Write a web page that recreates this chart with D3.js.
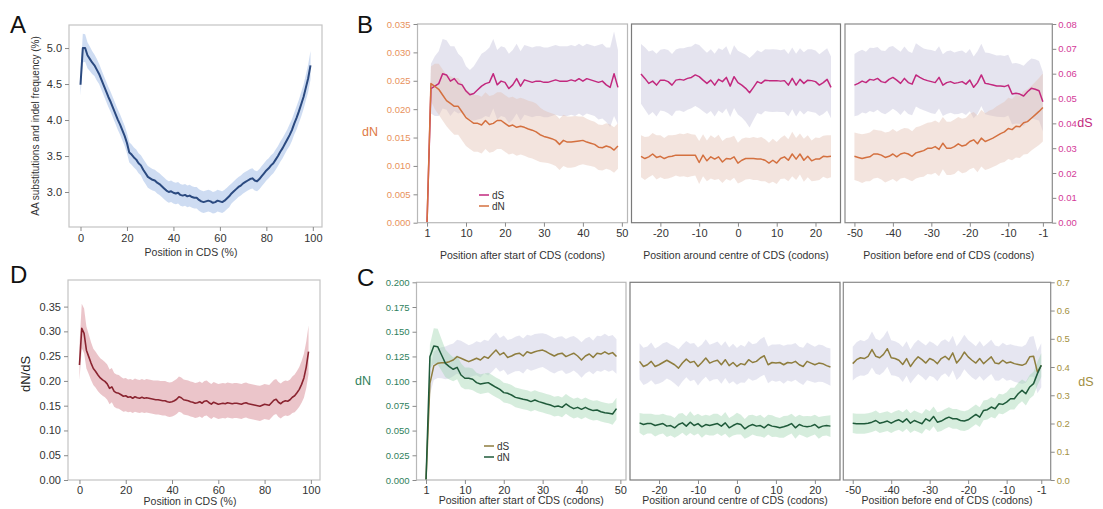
<!DOCTYPE html>
<html><head><meta charset="utf-8">
<script src="https://cdn.jsdelivr.net/npm/d3@7"></script>
<style>body{margin:0;background:#fff}svg{display:block}</style>
</head><body><svg id="c" width="1103" height="509"></svg>
<script>
// ---------- Panel A : AA substitutions and indel frequency (%) ----------
const A_mean = [4.49,5.00,5.00,4.90,4.85,4.80,4.76,4.70,4.64,4.56,4.48,4.40,4.32,4.25,4.17,4.09,4.01,3.94,3.86,3.78,3.68,3.55,3.52,3.48,3.45,3.40,3.37,3.31,3.26,3.21,3.19,3.17,3.16,3.13,3.11,3.08,3.05,3.02,3.00,3.01,2.99,2.98,2.99,2.96,2.95,2.96,2.94,2.95,2.93,2.92,2.92,2.89,2.87,2.86,2.87,2.88,2.87,2.85,2.86,2.88,2.87,2.86,2.88,2.91,2.94,2.98,3.01,3.04,3.07,3.09,3.12,3.14,3.16,3.18,3.19,3.16,3.15,3.18,3.22,3.26,3.30,3.33,3.37,3.40,3.45,3.50,3.56,3.61,3.67,3.73,3.79,3.86,3.95,4.03,4.12,4.22,4.32,4.45,4.58,4.76];
const A_err = [0.15,0.20,0.19,0.18,0.17,0.16,0.15,0.15,0.14,0.14,0.14,0.14,0.14,0.14,0.14,0.14,0.14,0.14,0.14,0.14,0.14,0.14,0.14,0.14,0.14,0.14,0.14,0.15,0.15,0.15,0.15,0.15,0.15,0.15,0.15,0.15,0.15,0.15,0.15,0.15,0.15,0.15,0.15,0.15,0.15,0.15,0.15,0.15,0.15,0.15,0.15,0.15,0.15,0.15,0.15,0.15,0.15,0.15,0.15,0.15,0.15,0.15,0.15,0.15,0.15,0.14,0.14,0.14,0.14,0.14,0.14,0.14,0.14,0.14,0.14,0.14,0.14,0.14,0.14,0.14,0.14,0.14,0.14,0.14,0.14,0.14,0.14,0.14,0.14,0.14,0.15,0.15,0.15,0.16,0.16,0.17,0.17,0.18,0.19,0.20];
const A_xticks = [0,20,40,60,80,100];
const A_yticks = [3.0,3.5,4.0,4.5,5.0];

// ---------- Panel D : dN/dS ----------
const D_mean = [0.232,0.306,0.296,0.262,0.249,0.236,0.225,0.219,0.212,0.206,0.202,0.199,0.194,0.185,0.188,0.179,0.176,0.175,0.172,0.169,0.170,0.167,0.168,0.165,0.168,0.166,0.165,0.167,0.165,0.166,0.165,0.164,0.163,0.162,0.162,0.161,0.160,0.160,0.158,0.157,0.158,0.160,0.163,0.168,0.166,0.162,0.161,0.160,0.158,0.157,0.155,0.156,0.158,0.155,0.159,0.160,0.156,0.153,0.157,0.155,0.153,0.154,0.155,0.154,0.156,0.155,0.154,0.155,0.155,0.154,0.153,0.155,0.156,0.154,0.153,0.152,0.151,0.150,0.149,0.151,0.153,0.152,0.151,0.156,0.161,0.163,0.157,0.154,0.158,0.160,0.159,0.162,0.167,0.170,0.176,0.183,0.193,0.206,0.228,0.259];
const D_up = [0.040,0.050,0.050,0.048,0.045,0.042,0.040,0.040,0.040,0.040,0.040,0.039,0.039,0.038,0.038,0.037,0.037,0.037,0.036,0.036,0.036,0.036,0.036,0.037,0.037,0.037,0.037,0.037,0.037,0.038,0.038,0.038,0.038,0.039,0.039,0.039,0.040,0.040,0.040,0.040,0.040,0.041,0.041,0.041,0.041,0.041,0.041,0.041,0.041,0.041,0.041,0.041,0.041,0.041,0.041,0.041,0.041,0.041,0.041,0.041,0.041,0.041,0.041,0.041,0.041,0.041,0.041,0.041,0.041,0.041,0.041,0.041,0.041,0.041,0.041,0.041,0.041,0.041,0.041,0.041,0.041,0.041,0.041,0.041,0.041,0.041,0.041,0.041,0.041,0.041,0.041,0.041,0.042,0.043,0.044,0.045,0.047,0.049,0.051,0.053];
const D_dn = [0.030,0.040,0.040,0.037,0.035,0.034,0.033,0.033,0.033,0.032,0.032,0.032,0.032,0.032,0.031,0.031,0.031,0.031,0.031,0.031,0.031,0.030,0.030,0.030,0.030,0.030,0.030,0.030,0.030,0.030,0.030,0.030,0.030,0.030,0.030,0.030,0.030,0.030,0.030,0.030,0.030,0.030,0.030,0.030,0.030,0.030,0.030,0.030,0.030,0.030,0.030,0.030,0.030,0.030,0.030,0.030,0.030,0.030,0.030,0.030,0.030,0.030,0.030,0.030,0.030,0.030,0.030,0.030,0.030,0.030,0.030,0.030,0.030,0.030,0.030,0.030,0.030,0.030,0.030,0.030,0.030,0.030,0.030,0.030,0.030,0.030,0.030,0.030,0.030,0.030,0.030,0.031,0.032,0.033,0.034,0.035,0.037,0.040,0.043,0.045];
const D_xticks = [0,20,40,60,80,100];
const D_yticks = [0,0.05,0.10,0.15,0.20,0.25,0.30,0.35];

// ---------- Panel B : dN / dS (orange / magenta) ----------
const B1_dS = [0,0.054,0.055,0.056,0.060,0.0595,0.057,0.058,0.056,0.0555,0.053,0.0515,0.052,0.0535,0.055,0.056,0.0565,0.060,0.0555,0.057,0.0565,0.054,0.0555,0.058,0.055,0.0575,0.057,0.0565,0.057,0.057,0.0565,0.0565,0.057,0.0575,0.057,0.057,0.057,0.0575,0.057,0.058,0.057,0.058,0.0575,0.057,0.0565,0.057,0.0555,0.0545,0.060,0.0545];
const B1_dS_err = [0,0.010,0.012,0.013,0.014,0.014,0.014,0.013,0.012,0.011,0.010,0.010,0.011,0.012,0.013,0.013,0.014,0.014,0.014,0.014,0.014,0.014,0.014,0.014,0.014,0.014,0.014,0.014,0.014,0.014,0.014,0.014,0.014,0.014,0.014,0.014,0.014,0.014,0.014,0.014,0.014,0.014,0.014,0.014,0.015,0.015,0.015,0.016,0.017,0.015];
const B1_dN = [0,0.0245,0.024,0.0235,0.0225,0.0215,0.021,0.0205,0.0205,0.0195,0.0185,0.018,0.0175,0.0175,0.0172,0.018,0.0173,0.0175,0.018,0.018,0.0175,0.017,0.0172,0.0168,0.017,0.0168,0.0165,0.0163,0.016,0.0155,0.0152,0.015,0.0148,0.0145,0.0138,0.0145,0.0142,0.0142,0.0143,0.0144,0.0145,0.0142,0.014,0.0138,0.0133,0.0132,0.0135,0.0133,0.0128,0.0135];
const B1_dN_err = [0,0.0030,0.0040,0.0045,0.0045,0.0045,0.0048,0.0050,0.0050,0.0050,0.0050,0.0050,0.0050,0.0050,0.0050,0.0050,0.0050,0.0050,0.0050,0.0050,0.0050,0.0050,0.0050,0.0050,0.0050,0.0050,0.0050,0.0050,0.0050,0.0048,0.0046,0.0045,0.0045,0.0045,0.0045,0.0045,0.0045,0.0045,0.0045,0.0043,0.0042,0.0041,0.0040,0.0040,0.0040,0.0040,0.0040,0.0040,0.0040,0.0040];
const B2_dS = [0.0599,0.0581,0.0561,0.0570,0.0554,0.0574,0.0574,0.0568,0.0554,0.0574,0.0577,0.0574,0.0581,0.0585,0.0595,0.0588,0.0574,0.0561,0.0574,0.0554,0.0577,0.0568,0.0585,0.0550,0.0588,0.0564,0.0554,0.0541,0.0523,0.0545,0.0568,0.0561,0.0574,0.0572,0.0572,0.0572,0.0570,0.0572,0.0554,0.0581,0.0554,0.0577,0.0561,0.0574,0.0572,0.0568,0.0554,0.0564,0.0577,0.0545];
const B2_dS_err = [0.0120,0.0125,0.0128,0.0124,0.0126,0.0122,0.0125,0.0127,0.0125,0.0123,0.0125,0.0128,0.0126,0.0124,0.0125,0.0127,0.0125,0.0123,0.0124,0.0126,0.0125,0.0127,0.0125,0.0124,0.0126,0.0128,0.0130,0.0135,0.0140,0.0132,0.0126,0.0125,0.0124,0.0125,0.0126,0.0125,0.0124,0.0126,0.0125,0.0124,0.0126,0.0125,0.0125,0.0124,0.0126,0.0125,0.0124,0.0126,0.0125,0.0124];
const B2_dN = [0.0117,0.0113,0.0116,0.0121,0.0115,0.0117,0.0113,0.0116,0.0117,0.0119,0.0119,0.0119,0.0119,0.0119,0.0119,0.0106,0.0119,0.0109,0.0116,0.0112,0.0116,0.0107,0.0113,0.0112,0.0116,0.0105,0.0110,0.0113,0.0113,0.0113,0.0112,0.0112,0.0110,0.0105,0.0110,0.0105,0.0113,0.0116,0.0110,0.0121,0.0112,0.0121,0.0110,0.0117,0.0109,0.0112,0.0112,0.0117,0.0116,0.0117];
const B2_dN_err = [0.0037,0.0038,0.0036,0.0037,0.0039,0.0037,0.0036,0.0038,0.0037,0.0036,0.0038,0.0037,0.0039,0.0037,0.0036,0.0038,0.0037,0.0036,0.0038,0.0037,0.0039,0.0037,0.0036,0.0038,0.0037,0.0036,0.0038,0.0037,0.0036,0.0038,0.0037,0.0039,0.0037,0.0036,0.0038,0.0037,0.0036,0.0038,0.0037,0.0039,0.0037,0.0036,0.0038,0.0037,0.0036,0.0038,0.0037,0.0036,0.0038,0.0037];
const B3_dS = [0.0554,0.0561,0.0570,0.0564,0.0577,0.0574,0.0581,0.0568,0.0564,0.0577,0.0585,0.0574,0.0561,0.0581,0.0564,0.0558,0.0595,0.0585,0.0577,0.0572,0.0568,0.0564,0.0585,0.0554,0.0564,0.0568,0.0561,0.0564,0.0568,0.0558,0.0574,0.0545,0.0564,0.0595,0.0561,0.0558,0.0554,0.0550,0.0550,0.0548,0.0554,0.0518,0.0521,0.0518,0.0510,0.0527,0.0541,0.0537,0.0531,0.0487];
const B3_dS_err = [0.0125,0.0128,0.0126,0.0124,0.0127,0.0129,0.0126,0.0125,0.0127,0.0130,0.0126,0.0125,0.0127,0.0128,0.0126,0.0125,0.0127,0.0126,0.0124,0.0125,0.0127,0.0126,0.0125,0.0124,0.0126,0.0125,0.0124,0.0126,0.0125,0.0124,0.0125,0.0124,0.0126,0.0125,0.0124,0.0125,0.0124,0.0123,0.0124,0.0123,0.0122,0.0123,0.0122,0.0121,0.0122,0.0121,0.0120,0.0121,0.0120,0.0120];
const B3_dN = [0.0117,0.0115,0.0113,0.0115,0.0116,0.0121,0.0121,0.0119,0.0115,0.0117,0.0121,0.0116,0.0121,0.0123,0.0121,0.0117,0.0123,0.0125,0.0127,0.0131,0.0131,0.0134,0.0129,0.0140,0.0131,0.0131,0.0134,0.0139,0.0135,0.0137,0.0143,0.0146,0.0139,0.0149,0.0143,0.0146,0.0149,0.0153,0.0157,0.0160,0.0166,0.0164,0.0170,0.0169,0.0176,0.0178,0.0184,0.0190,0.0196,0.0203];
const B3_dN_err = [0.0042,0.0042,0.0043,0.0042,0.0043,0.0043,0.0042,0.0043,0.0044,0.0043,0.0044,0.0044,0.0043,0.0044,0.0045,0.0044,0.0045,0.0045,0.0046,0.0045,0.0046,0.0046,0.0047,0.0046,0.0047,0.0047,0.0048,0.0047,0.0048,0.0048,0.0049,0.0049,0.0050,0.0050,0.0050,0.0051,0.0051,0.0052,0.0052,0.0053,0.0054,0.0054,0.0055,0.0055,0.0056,0.0057,0.0057,0.0058,0.0059,0.0060];

// ---------- Panel C : dN / dS (green / olive) ----------
const C1_dS = [0,0.342,0.404,0.413,0.415,0.415,0.419,0.425,0.437,0.431,0.425,0.419,0.425,0.431,0.425,0.437,0.431,0.446,0.460,0.443,0.451,0.434,0.439,0.446,0.449,0.439,0.454,0.449,0.454,0.458,0.460,0.454,0.446,0.439,0.446,0.449,0.437,0.443,0.449,0.439,0.425,0.439,0.446,0.434,0.449,0.446,0.454,0.446,0.451,0.437];
const C1_dS_err = [0,0.040,0.050,0.052,0.055,0.058,0.060,0.058,0.060,0.062,0.060,0.058,0.057,0.060,0.062,0.060,0.061,0.063,0.062,0.060,0.061,0.062,0.060,0.061,0.063,0.062,0.060,0.062,0.063,0.061,0.060,0.062,0.063,0.062,0.061,0.060,0.062,0.063,0.061,0.062,0.063,0.062,0.061,0.060,0.062,0.063,0.064,0.063,0.062,0.061];
const C1_dN = [0,0.1248,0.1356,0.1349,0.1265,0.1180,0.1147,0.1120,0.1140,0.1062,0.1029,0.1029,0.1019,0.0985,0.0971,0.0978,0.0985,0.0961,0.0938,0.0917,0.0884,0.0877,0.0860,0.0836,0.0826,0.0816,0.0809,0.0793,0.0809,0.0793,0.0782,0.0769,0.0759,0.0742,0.0749,0.0735,0.0769,0.0742,0.0722,0.0735,0.0715,0.0735,0.0715,0.0702,0.0708,0.0691,0.0681,0.0675,0.0668,0.0722];
const C1_dN_err = [0,0.012,0.018,0.018,0.016,0.014,0.013,0.012,0.012,0.012,0.011,0.011,0.011,0.010,0.010,0.010,0.010,0.010,0.010,0.010,0.010,0.010,0.010,0.010,0.010,0.010,0.010,0.010,0.010,0.010,0.010,0.010,0.010,0.010,0.010,0.010,0.010,0.010,0.010,0.010,0.010,0.010,0.010,0.010,0.010,0.010,0.010,0.010,0.011,0.011];
const C2_dS = [0.420,0.402,0.408,0.420,0.402,0.408,0.416,0.424,0.416,0.408,0.396,0.414,0.428,0.416,0.420,0.402,0.416,0.432,0.414,0.420,0.424,0.408,0.426,0.405,0.416,0.402,0.412,0.408,0.426,0.416,0.420,0.432,0.440,0.408,0.416,0.414,0.416,0.408,0.416,0.414,0.420,0.408,0.402,0.420,0.414,0.408,0.414,0.412,0.405,0.400];
const C2_dS_err = [0.064,0.066,0.065,0.067,0.064,0.066,0.068,0.065,0.064,0.066,0.067,0.065,0.064,0.066,0.065,0.067,0.064,0.066,0.065,0.064,0.066,0.067,0.065,0.064,0.066,0.065,0.067,0.064,0.066,0.065,0.064,0.066,0.067,0.065,0.064,0.066,0.065,0.067,0.064,0.066,0.065,0.064,0.066,0.067,0.065,0.064,0.066,0.065,0.064,0.066];
const C2_dN = [0.0578,0.0561,0.0571,0.0571,0.0551,0.0561,0.0571,0.0545,0.0551,0.0528,0.0561,0.0578,0.0545,0.0585,0.0551,0.0571,0.0538,0.0561,0.0551,0.0561,0.0571,0.0545,0.0578,0.0528,0.0551,0.0571,0.0561,0.0518,0.0545,0.0561,0.0545,0.0551,0.0528,0.0561,0.0545,0.0538,0.0528,0.0538,0.0551,0.0571,0.0528,0.0561,0.0545,0.0538,0.0545,0.0561,0.0528,0.0545,0.0551,0.0545];
const C2_dN_err = [0.010,0.011,0.010,0.010,0.011,0.010,0.010,0.011,0.010,0.010,0.011,0.010,0.010,0.011,0.010,0.010,0.011,0.010,0.010,0.011,0.010,0.010,0.011,0.010,0.010,0.011,0.010,0.010,0.011,0.010,0.010,0.011,0.010,0.010,0.011,0.010,0.010,0.011,0.010,0.010,0.011,0.010,0.010,0.011,0.010,0.010,0.011,0.010,0.010,0.011];
const C3_dS = [0.412,0.426,0.433,0.430,0.438,0.462,0.438,0.433,0.445,0.465,0.433,0.430,0.424,0.409,0.430,0.402,0.421,0.436,0.426,0.414,0.430,0.424,0.412,0.430,0.438,0.426,0.450,0.414,0.430,0.453,0.436,0.424,0.414,0.430,0.412,0.424,0.436,0.414,0.412,0.424,0.414,0.418,0.412,0.409,0.406,0.412,0.436,0.438,0.382,0.406];
const C3_dS_err = [0.060,0.062,0.063,0.061,0.062,0.064,0.062,0.061,0.063,0.064,0.062,0.061,0.060,0.062,0.061,0.060,0.062,0.061,0.060,0.062,0.061,0.060,0.062,0.061,0.060,0.062,0.061,0.060,0.062,0.061,0.060,0.061,0.060,0.062,0.061,0.060,0.061,0.062,0.061,0.062,0.063,0.063,0.064,0.065,0.066,0.068,0.070,0.072,0.075,0.078];
const C3_dN = [0.0575,0.0569,0.0569,0.0569,0.0575,0.0585,0.0602,0.0575,0.0585,0.0596,0.0575,0.0596,0.0609,0.0585,0.0619,0.0575,0.0602,0.0585,0.0569,0.0619,0.0596,0.0643,0.0585,0.0596,0.0619,0.0636,0.0619,0.0619,0.0602,0.0596,0.0609,0.0636,0.0663,0.0636,0.0704,0.0711,0.0738,0.0721,0.0772,0.0765,0.0788,0.0822,0.0822,0.0873,0.0907,0.0873,0.0941,0.0975,0.1076,0.1161];
const C3_dN_err = [0.010,0.010,0.010,0.010,0.010,0.010,0.010,0.010,0.010,0.010,0.010,0.010,0.010,0.010,0.010,0.010,0.010,0.010,0.010,0.010,0.010,0.010,0.010,0.010,0.010,0.010,0.010,0.010,0.010,0.010,0.010,0.010,0.010,0.010,0.010,0.010,0.010,0.010,0.010,0.010,0.010,0.011,0.011,0.011,0.011,0.012,0.012,0.012,0.012,0.012];

// ---------- positions and tick labels ----------
const startPos = d3.range(0, 50);     // codon 1..50 plotted at index 0..49
const centrePos = d3.range(-25, 25);
const endPos = d3.range(-50, 0);
const startTicks = [0,10,20,30,40,50], startLabels = ["1","10","20","30","40","50"];
const centreTicks = [-20,-10,0,10,20], centreLabels = ["-20","-10","0","10","20"];
const endTicks = [-50,-40,-30,-20,-10,-1], endLabels = ["-50","-40","-30","-20","-10","-1"];
const B_leftTicks = [0,0.005,0.010,0.015,0.020,0.025,0.030,0.035];
const B_rightTicks = [0,0.01,0.02,0.03,0.04,0.05,0.06,0.07,0.08];
const C_leftTicks = [0,0.025,0.050,0.075,0.100,0.125,0.150,0.175,0.200];
const C_rightTicks = [0,0.1,0.2,0.3,0.4,0.5,0.6,0.7];
const legendNames = ["dS","dN"];

const FONT = '"Liberation Sans", Arial, Helvetica, sans-serif';
const svg = d3.select('#c');

function styleAxis(g, fs, color) {
  g.attr('font-family', FONT).attr('font-size', fs);
  g.select('.domain').remove();
  g.selectAll('.tick line').attr('stroke', '#8a8a8a');
  g.selectAll('.tick text').attr('fill', color);
}
function frameRect(x0, x1, y0, y1, color) {
  svg.append('rect').attr('x', x0).attr('y', y0).attr('width', x1 - x0).attr('height', y1 - y0)
    .attr('fill', 'none').attr('stroke', color).attr('stroke-width', 1.2);
}
function band(xs, mean, up, dn, x, y, fill, op) {
  const a = d3.area().x((d, i) => x(xs[i])).y0((d, i) => y(mean[i] - dn[i])).y1((d, i) => y(mean[i] + up[i]));
  svg.append('path').datum(mean).attr('d', a).attr('fill', fill).attr('fill-opacity', op);
}
function line(xs, mean, x, y, color, w) {
  const l = d3.line().x((d, i) => x(xs[i])).y(d => y(d));
  svg.append('path').datum(mean).attr('d', l).attr('fill', 'none').attr('stroke', color)
    .attr('stroke-width', w).attr('stroke-linejoin', 'round');
}
function letter(t, x, y) {
  svg.append('text').attr('x', x).attr('y', y).text(t).attr('font-family', FONT).attr('font-size', 24).attr('fill', '#111');
}
function label(t, x, y, fs, color, rot) {
  const e = svg.append('text').attr('x', x).attr('y', y).text(t).attr('font-family', FONT).attr('font-size', fs)
    .attr('fill', color).attr('text-anchor', 'middle').attr('dominant-baseline', 'central');
  if (rot) e.attr('transform', `rotate(-90,${x},${y})`);
}

// ===== Panel A =====
{
  const L = 69, R = 322, T = 25, Bt = 227;
  const x = d3.scaleLinear().domain([-4.95, 103.95]).range([L, R]);
  const y = d3.scaleLinear().domain([2.514, 5.32]).range([Bt, T]);
  const xs = d3.range(A_mean.length);
  frameRect(L, R, T, Bt, '#c4c4c4');
  band(xs, A_mean, A_err, A_err, x, y, '#a6c0e8', 0.55);
  line(xs, A_mean, x, y, '#2b4a80', 2);
  styleAxis(svg.append('g').attr('transform', `translate(0,${Bt})`).call(d3.axisBottom(x).tickValues(A_xticks).tickSize(4).tickPadding(3)), 11, '#333');
  styleAxis(svg.append('g').attr('transform', `translate(${L},0)`).call(d3.axisLeft(y).tickValues(A_yticks).tickFormat(d3.format('.1f')).tickSize(4).tickPadding(3)), 11, '#333');
  label('Position in CDS (%)', 191, 252, 10.5, '#333');
  label('AA substitutions and indel frequency (%)', 35, 126, 10, '#333', true);
  letter('A', 10, 33);
}

// ===== Panel D =====
{
  const L = 68, R = 320, T = 280, Bt = 480;
  const x = d3.scaleLinear().domain([-4.95, 103.95]).range([L, R]);
  const y = d3.scaleLinear().domain([0, 0.4037]).range([Bt, T]);
  const xs = d3.range(D_mean.length);
  frameRect(L, R, T, Bt, '#c4c4c4');
  band(xs, D_mean, D_up, D_dn, x, y, '#d8909a', 0.52);
  line(xs, D_mean, x, y, '#8a2430', 1.6);
  styleAxis(svg.append('g').attr('transform', `translate(0,${Bt})`).call(d3.axisBottom(x).tickValues(D_xticks).tickSize(4).tickPadding(2)), 11, '#333');
  styleAxis(svg.append('g').attr('transform', `translate(${L},0)`).call(d3.axisLeft(y).tickValues(D_yticks).tickFormat(d3.format('.2f')).tickSize(4).tickPadding(3)), 11, '#333');
  label('Position in CDS (%)', 190, 501, 10.5, '#333');
  label('dN/dS', 25, 374, 13, '#222', true);
  letter('D', 10, 283);
}

// ===== Panels B and C =====
function rowPanels(cfg) {
  const subs = [
    { L: cfg.L[0], R: cfg.R[0], pos: startPos, dom: [-2.45, 51.45], ticks: startTicks, labels: startLabels, dS: cfg.dS[0], dSe: cfg.dSe[0], dN: cfg.dN[0], dNe: cfg.dNe[0], fc: '#b8b8b8', xl: 'Position after start of CDS (codons)' },
    { L: cfg.L[1], R: cfg.R[1], pos: centrePos, dom: [-27.45, 26.45], ticks: centreTicks, labels: centreLabels, dS: cfg.dS[1], dSe: cfg.dSe[1], dN: cfg.dN[1], dNe: cfg.dNe[1], fc: '#7a7a7a', xl: 'Position around centre of CDS (codons)' },
    { L: cfg.L[2], R: cfg.R[2], pos: endPos, dom: [-52.45, 1.45], ticks: endTicks, labels: endLabels, dS: cfg.dS[2], dSe: cfg.dSe[2], dN: cfg.dN[2], dNe: cfg.dNe[2], fc: '#8a8a8a', xl: 'Position before end of CDS (codons)' }
  ];
  const yN = d3.scaleLinear().domain(cfg.nDom).range([cfg.B, cfg.T]);
  const yS = d3.scaleLinear().domain(cfg.sDom).range([cfg.B, cfg.T]);
  subs.forEach((s, k) => {
    const x = d3.scaleLinear().domain(s.dom).range([s.L, s.R]);
    band(s.pos, s.dS, s.dSe, s.dSe, x, yS, cfg.sBand, cfg.sBandOp);
    band(s.pos, s.dN, s.dNe, s.dNe, x, yN, cfg.nBand, cfg.nBandOp);
    line(s.pos, s.dS, x, yS, cfg.sLine, 1.5);
    line(s.pos, s.dN, x, yN, cfg.nLine, 1.5);
    frameRect(s.L, s.R, cfg.T, cfg.B, s.fc);
    const ax = d3.axisBottom(x).tickValues(s.ticks).tickSize(4).tickPadding(cfg.xpad)
      .tickFormat((d, i) => s.labels[i]);
    styleAxis(svg.append('g').attr('transform', `translate(0,${cfg.B})`).call(ax), 11, '#333');
    label(s.xl, (s.L + s.R) / 2, cfg.xlY, 10.5, '#333');
    if (k === 0) {
      styleAxis(svg.append('g').attr('transform', `translate(${s.L},0)`).call(d3.axisLeft(yN).tickValues(cfg.nTicks).tickFormat(d3.format(cfg.nFmt)).tickSize(4).tickPadding(3)), 9.5, cfg.nTickCol);
      legendNames.forEach((nm, j) => {
        const ly = cfg.legY + j * 11;
        svg.append('line').attr('x1', cfg.legX).attr('x2', cfg.legX + 10).attr('y1', ly).attr('y2', ly)
          .attr('stroke', j === 0 ? cfg.sLine : cfg.nLine).attr('stroke-width', 1.5);
        svg.append('text').attr('x', cfg.legX + 13).attr('y', ly).attr('dominant-baseline', 'central')
          .attr('font-family', FONT).attr('font-size', 10).attr('fill', '#333').text(nm);
      });
    }
    if (k === 2) {
      styleAxis(svg.append('g').attr('transform', `translate(${s.R},0)`).call(d3.axisRight(yS).tickValues(cfg.sTicks).tickFormat(d3.format(cfg.sFmt)).tickSize(4).tickPadding(2)), 9.5, cfg.sTickCol);
    }
  });
  label('dN', cfg.nLabX, cfg.nLabY, 12.5, cfg.nLabCol);
  label('dS', cfg.sLabX, cfg.sLabY, 12.5, cfg.sLabCol);
}

rowPanels({
  L: [417.5, 631.5, 845], R: [627.5, 840.5, 1052.3], T: 24, B: 222.7,
  nDom: [0, 0.035], sDom: [0, 0.08],
  dS: [B1_dS, B2_dS, B3_dS], dSe: [B1_dS_err, B2_dS_err, B3_dS_err],
  dN: [B1_dN, B2_dN, B3_dN], dNe: [B1_dN_err, B2_dN_err, B3_dN_err],
  sBand: '#c6c4dc', sBandOp: 0.45, nBand: '#e2bfb0', nBandOp: 0.42,
  sLine: '#c2287e', nLine: '#d4703f',
  nTicks: B_leftTicks, nFmt: '.3f', sTicks: B_rightTicks, sFmt: '.2f',
  nTickCol: '#e8925c', sTickCol: '#d43a98',
  xpad: 3, xlY: 255,
  legX: 479, legY: 195,
  nLabX: 370, nLabY: 132, nLabCol: '#e07a45',
  sLabX: 1085, sLabY: 123, sLabCol: '#c2287e'
});
letter('B', 357, 33);

rowPanels({
  L: [416.5, 630, 843.3], R: [626, 840, 1050.7], T: 282.3, B: 480,
  nDom: [0, 0.2], sDom: [0, 0.7],
  dS: [C1_dS, C2_dS, C3_dS], dSe: [C1_dS_err, C2_dS_err, C3_dS_err],
  dN: [C1_dN, C2_dN, C3_dN], dNe: [C1_dN_err, C2_dN_err, C3_dN_err],
  sBand: '#c8c8e0', sBandOp: 0.45, nBand: '#9dd3ae', nBandOp: 0.42,
  sLine: '#8e7d3e', nLine: '#1f5a3a',
  nTicks: C_leftTicks, nFmt: '.3f', sTicks: C_rightTicks, sFmt: '.1f',
  nTickCol: '#2f7f5c', sTickCol: '#a4923f',
  xpad: 2, xlY: 500,
  legX: 484, legY: 446,
  nLabX: 363, nLabY: 381, nLabCol: '#2f7f5c',
  sLabX: 1086, sLabY: 382, sLabCol: '#a08e42'
});
letter('C', 357, 286);
</script></body></html>
